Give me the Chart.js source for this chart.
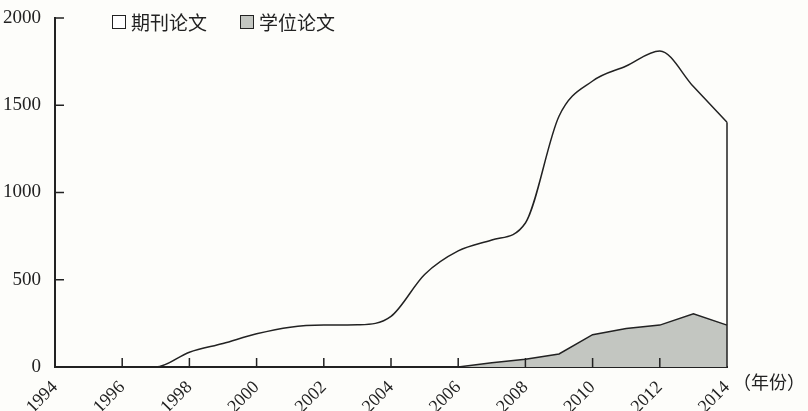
<!DOCTYPE html>
<html>
<head>
<meta charset="utf-8">
<script src="https://cdn.jsdelivr.net/npm/chart.js@4"></script>
<style>
  body { margin: 0; background: #fdfdfa; }
  #wrap { position: relative; width: 808px; height: 411px; }
  .leg { position: absolute; top: 8px; font-family: "Noto Sans CJK SC", serif; font-size: 19px; color: #222; display: flex; align-items: center; }
  .box { width: 14px; height: 14px; border: 1.5px solid #222; margin-right: 5px; box-sizing: border-box; }
  #unit { position: absolute; left: 733px; top: 368px; font-family: "Noto Sans CJK SC", serif; font-size: 18px; color: #222; }
</style>
</head>
<body>
<div id="wrap">
  <canvas id="mychart" width="808" height="411"></canvas>
  <div class="leg" style="left:112px"><span class="box" style="background:#fff"></span>期刊论文</div>
  <div class="leg" style="left:240px"><span class="box" style="background:#c3c6c1"></span>学位论文</div>
  <div id="unit">（年份）</div>
</div>
<script>
// years on the x axis
const years = ["1994","1995","1996","1997","1998","1999","2000","2001","2002","2003","2004",
  "2005","2006","2007","2008","2009","2010","2011","2012","2013","2014"];
// 期刊论文 (journal papers)
const journal = [0, 0, 0, 0, 85, 135, 190, 228, 240, 242, 290, 530, 665, 728, 825, 1437, 1639, 1725, 1811, 1607, 1403];
// 学位论文 (theses)
const thesis = [0, 0, 0, 0, 0, 0, 0, 0, 0, 0, 0, 0, 0, 25, 45, 75, 185, 220, 240, 305, 240];
const yTicks = [0, 500, 1000, 1500, 2000];

const ink = "#222";
const serif = "Liberation Serif, Times New Roman, Times, serif";

// ticks pointing into the plot + closing line at the right end
const innerTicks = {
  id: "innerTicks",
  afterDraw(chart) {
    const c = chart.ctx, x = chart.scales.x, y = chart.scales.y;
    c.save();
    c.strokeStyle = ink;
    c.lineWidth = 1.5;
    c.beginPath();
    for (let i = 2; i < years.length - 1; i += 2) {
      const px = x.getPixelForValue(i);
      c.moveTo(px, y.bottom);
      c.lineTo(px, y.bottom - 9);
    }
    yTicks.slice(1).forEach(v => {
      const py = y.getPixelForValue(v);
      c.moveTo(x.left, py);
      c.lineTo(x.left + 9, py);
    });
    // right end of the journal area down to zero
    const pts = chart.getDatasetMeta(0).data;
    const last = pts[pts.length - 1];
    c.moveTo(last.x, last.y);
    c.lineTo(last.x, y.getPixelForValue(0));
    c.stroke();
    c.restore();
  }
};

const ctx = document.getElementById("mychart").getContext("2d");
new Chart(ctx, {
  type: "line",
  data: {
    labels: years,
    datasets: [
      {
        label: "期刊论文",
        data: journal,
        borderColor: ink,
        borderWidth: 1.5,
        backgroundColor: "rgba(0,0,0,0)",
        fill: false,
        cubicInterpolationMode: "monotone",
        pointRadius: 0,
      },
      {
        label: "学位论文",
        data: thesis,
        borderColor: ink,
        borderWidth: 1.5,
        backgroundColor: "#c3c6c1",
        fill: "origin",
        tension: 0,
        pointRadius: 0,
      },
    ],
  },
  options: {
    responsive: false,
    animation: false,
    layout: { padding: { top: 18, right: 81, left: 0, bottom: 0 } },
    plugins: { legend: { display: false }, tooltip: { enabled: false } },
    scales: {
      x: {
        offset: false,
        grid: { display: false },
        border: { display: true, color: ink, width: 2 },
        afterFit: s => { s.height = 44; },
        ticks: {
          autoSkip: false,
          minRotation: 45,
          maxRotation: 45,
          padding: 2,
          color: ink,
          font: { family: serif, size: 18 },
          callback: (v, i) => (i % 2 === 0 ? years[i] : ""),
        },
      },
      y: {
        min: 0,
        max: 2000,
        grid: { display: false },
        border: { display: true, color: ink, width: 2 },
        afterFit: s => { s.width = 55; },
        afterBuildTicks: s => { s.ticks = yTicks.map(v => ({ value: v })); },
        ticks: {
          padding: 6,
          color: ink,
          font: { family: serif, size: 19 },
          callback: v => String(v),
        },
      },
    },
  },
  plugins: [innerTicks],
});
</script>
</body>
</html>
